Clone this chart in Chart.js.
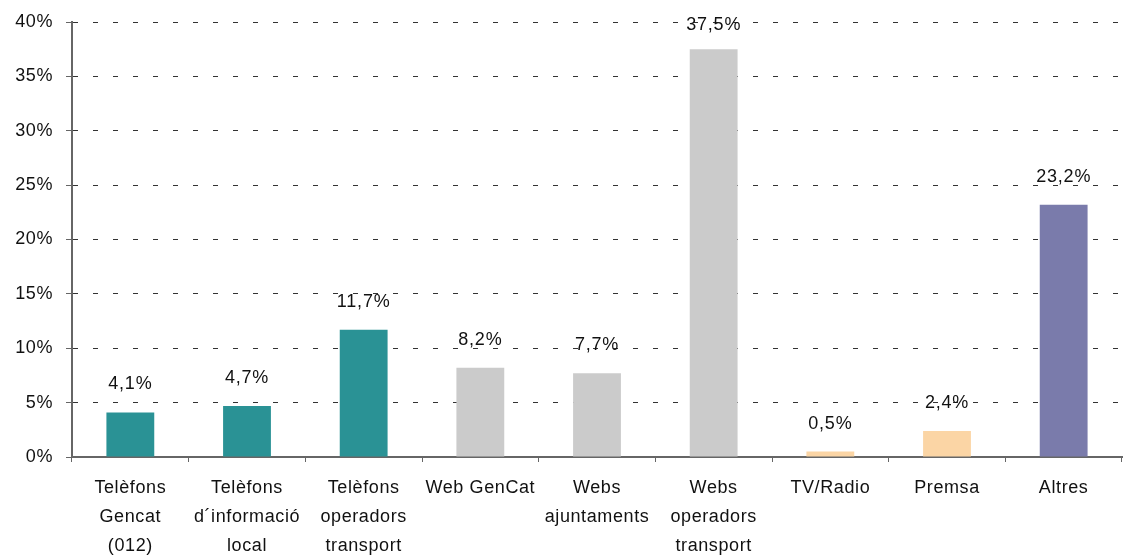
<!DOCTYPE html>
<html>
<head>
<meta charset="utf-8">
<script src="https://cdn.jsdelivr.net/npm/chart.js@4"></script>
<style>
  html, body { margin: 0; padding: 0; background: #fff; }
  #wrap { width: 1126px; height: 558px; }
</style>
</head>
<body>
<div id="wrap"><canvas id="chart" width="1126" height="558"></canvas></div>
<script>
// dades llegides del gràfic
const categories = [
  ['Telèfons', 'Gencat', '(012)'],
  ['Telèfons', 'd´informació', 'local'],
  ['Telèfons', 'operadors', 'transport'],
  'Web GenCat',
  ['Webs', 'ajuntaments'],
  ['Webs', 'operadors', 'transport'],
  'TV/Radio',
  'Premsa',
  'Altres'
];
const values = [4.1, 4.7, 11.7, 8.2, 7.7, 37.5, 0.5, 2.4, 23.2];
const barColors = ['#2a9295', '#2a9295', '#2a9295', '#cbcbcb', '#cbcbcb', '#cbcbcb', '#fbd5a5', '#fbd5a5', '#7a7bab'];
const yTicks = [0, 5, 10, 15, 20, 25, 30, 35, 40];

const FONT = '"Liberation Sans", Arial, sans-serif';

// espaiat de lletres com a l'original
const spacing = {
  id: 'spacing',
  beforeDraw(chart) { chart.ctx.letterSpacing = '0.6px'; }
};

// etiquetes de valor sobre cada barra
const valueLabels = {
  id: 'valueLabels',
  afterDatasetsDraw(chart) {
    const ctx = chart.ctx;
    const meta = chart.getDatasetMeta(0);
    ctx.save();
    ctx.letterSpacing = '0.8px';
    ctx.font = '18px ' + FONT;
    ctx.fillStyle = '#111';
    ctx.textAlign = 'center';
    ctx.textBaseline = 'middle';
    meta.data.forEach((bar, i) => {
      const txt = values[i].toFixed(1).replace('.', ',') + '%';
      const y = Math.max(bar.y - 28, 25);
      ctx.fillText(txt, bar.x, y);
    });
    ctx.restore();
  }
};

new Chart(document.getElementById('chart'), {
  type: 'bar',
  data: {
    labels: categories,
    datasets: [{
      data: values,
      backgroundColor: barColors,
      borderWidth: 0,
      barPercentage: 0.41,
      categoryPercentage: 1
    }]
  },
  options: {
    responsive: false,
    animation: false,
    layout: { padding: { top: 17, right: 4, left: 0, bottom: 0 } },
    plugins: { legend: { display: false }, tooltip: { enabled: false } },
    scales: {
      x: {
        afterFit: s => { s.height = 101; },
        grid: {
          display: true,
          drawOnChartArea: false,
          drawTicks: true,
          tickLength: 5,
          color: '#666',
          offset: true
        },
        border: { color: '#666', width: 2 },
        ticks: {
          color: '#111',
          font: { family: FONT, size: 18, lineHeight: 1.63 },
          maxRotation: 0,
          autoSkip: false,
          padding: 11
        }
      },
      y: {
        min: 0,
        max: 40,
        afterFit: s => { s.width = 72; },
        afterBuildTicks: s => { s.ticks = yTicks.map(v => ({ value: v })); },
        grid: {
          color: '#333',
          lineWidth: 1,
          tickLength: 6,
          tickColor: '#666',
          tickBorderDash: []
        },
        border: { color: '#666', width: 2, dash: [5, 15] },
        ticks: {
          color: '#111',
          font: { family: FONT, size: 18, lineHeight: 1 },
          padding: 13,
          callback: v => v + '%'
        }
      }
    }
  },
  plugins: [spacing, valueLabels]
});
</script>
</body>
</html>
